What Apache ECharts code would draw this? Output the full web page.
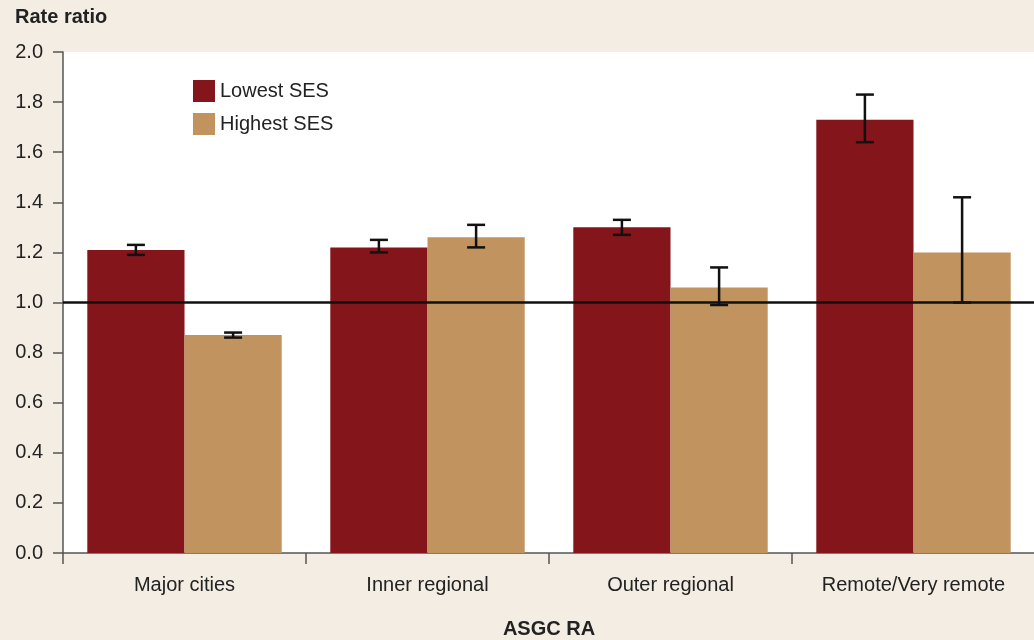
<!DOCTYPE html>
<html>
<head>
<meta charset="utf-8">
<script src="https://cdn.jsdelivr.net/npm/echarts@6/dist/echarts.min.js"></script>
<style>
  html, body { margin: 0; padding: 0; background: #f4ede3; }
  #chart { width: 1034px; height: 640px; }
</style>
</head>
<body>
<div id="chart"></div>
<script>
const categories = ['Major cities', 'Inner regional', 'Outer regional', 'Remote/Very remote']
const seriesNames = ['Lowest SES', 'Highest SES']
const lowestSES = [1.21, 1.22, 1.30, 1.73]
const lowestLow = [1.19, 1.20, 1.27, 1.64]
const lowestHigh = [1.23, 1.25, 1.33, 1.83]
const highestSES = [0.87, 1.26, 1.06, 1.20]
const highestLow = [0.86, 1.22, 0.99, 1.00]
const highestHigh = [0.88, 1.31, 1.14, 1.42]
const yTicks = [0, 0.2, 0.4, 0.6, 0.8, 1.0, 1.2, 1.4, 1.6, 1.8, 2.0]

const colors = ['#83151b', '#c1935f']
const font = '"Liberation Sans", Arial, sans-serif'
const fs = 20

// error bars: [categoryIndex, low, high, seriesIndex]
const errData = []
categories.forEach((c, i) => {
  errData.push([i, lowestLow[i], lowestHigh[i], 0])
  errData.push([i, highestLow[i], highestHigh[i], 1])
})

const chart = echarts.init(document.getElementById('chart'))

const option = {
  backgroundColor: '#f4ede3',
  animation: false,
  textStyle: { fontFamily: font },
  title: {
    text: 'Rate ratio',
    left: 15,
    top: 7,
    padding: 0,
    textStyle: { fontSize: fs, fontWeight: 'bold', color: '#222', fontFamily: font },
  },
  legend: {
    data: seriesNames,
    orient: 'vertical',
    left: 193,
    top: 80,
    padding: 0,
    icon: 'rect',
    itemWidth: 22,
    itemHeight: 22,
    itemGap: 11,
    textStyle: { fontSize: fs, color: '#222', fontFamily: font },
  },
  grid: {
    left: 63, right: -1, top: 52, bottom: 87,
    containLabel: false,
    outerBoundsMode: 'none',
    backgroundColor: '#fff', show: true, borderWidth: 0,
  },
  xAxis: {
    type: 'category',
    data: categories,
    name: 'ASGC RA',
    nameLocation: 'middle',
    nameGap: 66,
    nameTextStyle: { fontSize: fs, fontWeight: 'bold', color: '#222', fontFamily: font },
    axisLine: { lineStyle: { color: '#555', width: 1.5 } },
    axisTick: { show: true, length: 11, lineStyle: { color: '#555', width: 1.5 } },
    axisLabel: { margin: 22, fontSize: fs, color: '#222', fontFamily: font },
  },
  yAxis: {
    type: 'value',
    min: yTicks[0],
    max: yTicks[yTicks.length - 1],
    interval: 0.2,
    axisLine: { show: true, lineStyle: { color: '#555', width: 1.5 } },
    axisTick: { show: true, length: 10, lineStyle: { color: '#555', width: 1.5 } },
    splitLine: { show: false },
    axisLabel: { margin: 20, fontSize: fs, color: '#222', fontFamily: font, formatter: v => v.toFixed(1) },
  },
  series: [
    {
      name: seriesNames[0],
      type: 'bar',
      data: lowestSES,
      itemStyle: { color: colors[0] },
      barGap: 0,
      barCategoryGap: '20%',
    },
    {
      name: seriesNames[1],
      type: 'bar',
      data: highestSES,
      itemStyle: { color: colors[1] },
      barGap: 0,
      barCategoryGap: '20%',
      markLine: {
        silent: true,
        symbol: 'none',
        label: { show: false },
        lineStyle: { color: '#111', width: 2.5, type: 'solid' },
        data: [{ yAxis: 1.0 }],
      },
    },
    {
      type: 'custom',
      z: 10,
      data: errData,
      renderItem: (params, api) => {
        const band = api.size([1, 0])[0]
        const offset = (api.value(3) === 0 ? -0.2 : 0.2) * band
        const lo = api.coord([api.value(0), api.value(1)])
        const hi = api.coord([api.value(0), api.value(2)])
        const x = lo[0] + offset
        const cap = 9
        const style = { stroke: '#111', lineWidth: 2.5 }
        return {
          type: 'group',
          children: [
            { type: 'line', shape: { x1: x, y1: hi[1], x2: x, y2: lo[1] }, style },
            { type: 'line', shape: { x1: x - cap, y1: hi[1], x2: x + cap, y2: hi[1] }, style },
            { type: 'line', shape: { x1: x - cap, y1: lo[1], x2: x + cap, y2: lo[1] }, style },
          ],
        }
      },
    },
  ],
}

chart.setOption(option)
</script>
</body>
</html>
